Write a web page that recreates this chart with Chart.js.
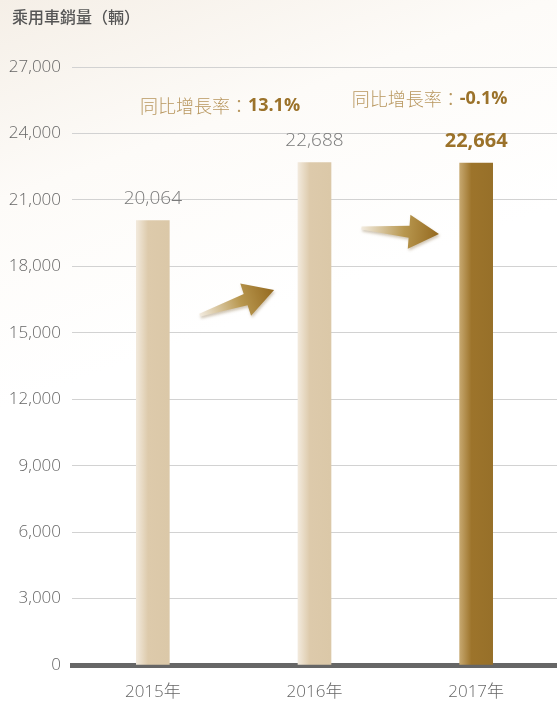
<!DOCTYPE html>
<html lang="zh-Hant">
<head>
<meta charset="UTF-8">
<title>乘用車銷量</title>
<style>
    html, body {
        margin: 0;
        padding: 0;
    }
    body {
        width: 557px;
        height: 708px;
        background: linear-gradient(160deg, #f5efe7 0%, #fdfbf8 22%, #ffffff 45%, #ffffff 100%);
        font-family: "Open Sans", "Noto Sans CJK TC", sans-serif;
    }
    #wrap {
        position: relative;
        width: 557px;
        height: 708px;
    }
</style>
</head>
<body>
<div id="wrap"><canvas id="sales"></canvas></div>

<script src="https://cdn.jsdelivr.net/npm/chart.js"></script>
<script>
    const years = ['2015年', '2016年', '2017年'];
    const sales = [20064, 22688, 22664];
    const growthLabels = ['同比增長率：', '同比增長率：'];
    const growthValues = ['13.1%', '-0.1%'];
    const yTicks = [0, 3000, 6000, 9000, 12000, 15000, 18000, 21000, 24000, 27000];

    const FONT = '"Open Sans", "Noto Sans CJK TC", sans-serif';
    const GOLD = '#9b722a';

    // bar fill: light-to-dark horizontal gradient per bar
    function barFill(ctx) {
        const chart = ctx.chart;
        if (!chart.chartArea || ctx.dataIndex === undefined) return '#dccaa9';
        const x = chart.scales.x.getPixelForValue(ctx.dataIndex);
        const g = chart.ctx.createLinearGradient(x - 16, 0, x + 16, 0);
        if (ctx.dataIndex === sales.length - 1) {
            g.addColorStop(0, '#c4a56c');
            g.addColorStop(0.35, '#9d742b');
            g.addColorStop(1, '#977029');
        } else {
            g.addColorStop(0, '#f1e8da');
            g.addColorStop(0.35, '#ddcaab');
            g.addColorStop(1, '#dbc8a8');
        }
        return g;
    }

    // arrows between bars: [tail category pos, tail value, tip category pos, tip value]
    const arrows = [
        [0.29, 15800, 0.75, 16930],
        [1.29, 19730, 1.77, 19460]
    ];

    function catPx(scale, f) {
        const i = Math.floor(f);
        const a = scale.getPixelForValue(i);
        const b = scale.getPixelForValue(i + 1);
        return a + (f - i) * (b - a);
    }

    const decorPlugin = {
        id: 'decor',
        beforeDraw(chart) {
            const c = chart.ctx;
            c.save();
            c.fillStyle = '#555';
            c.textBaseline = 'middle';
            c.textAlign = 'left';
            c.font = '500 16px "Noto Sans CJK TC", sans-serif';
            c.fillText('乘用車銷量（輛）', 12, 17);
            c.restore();
        },
        afterDatasetsDraw(chart) {
            const c = chart.ctx;
            const xs = chart.scales.x;
            const ys = chart.scales.y;
            const meta = chart.getDatasetMeta(0);

            // value labels above bars
            c.save();
            c.textAlign = 'center';
            c.textBaseline = 'middle';
            meta.data.forEach((bar, i) => {
                const last = i === sales.length - 1;
                c.font = (last ? 'bold 20px ' : '300 19px ') + FONT;
                c.fillStyle = last ? GOLD : '#7a7a7a';
                c.fillText(sales[i].toLocaleString('en-US'), bar.x, bar.y - 22);
            });
            c.restore();

            // growth annotations
            const growthPos = [[-0.08, 25250], [1.23, 25550]];
            c.save();
            c.textBaseline = 'middle';
            c.textAlign = 'left';
            growthLabels.forEach((lab, i) => {
                let x = catPx(xs, growthPos[i][0] < 0 ? 0 : growthPos[i][0]);
                if (growthPos[i][0] < 0) x += growthPos[i][0] * (xs.getPixelForValue(1) - xs.getPixelForValue(0));
                const y = ys.getPixelForValue(growthPos[i][1]);
                c.font = '300 18px "Noto Sans CJK TC", sans-serif';
                c.fillStyle = '#b8975f';
                c.fillText(lab, x, y);
                const w = c.measureText(lab).width;
                c.font = 'bold 18px ' + FONT;
                c.fillStyle = GOLD;
                c.fillText(growthValues[i], x + w, y);
            });
            c.restore();

            // arrows
            arrows.forEach(a => {
                const x0 = catPx(xs, a[0]), y0 = ys.getPixelForValue(a[1]);
                const x1 = catPx(xs, a[2]), y1 = ys.getPixelForValue(a[3]);
                const dx = x1 - x0, dy = y1 - y0;
                const len = Math.hypot(dx, dy);
                const ux = dx / len, uy = dy / len;
                const nx = -uy, ny = ux;
                const headLen = 30, headHalf = 17;
                const bx = x1 - ux * headLen, by = y1 - uy * headLen;
                const pts = [
                    [x0 + nx * 1.5, y0 + ny * 1.5],
                    [bx + nx * 6, by + ny * 6],
                    [bx + nx * headHalf, by + ny * headHalf],
                    [x1, y1],
                    [bx - nx * headHalf, by - ny * headHalf],
                    [bx - nx * 6, by - ny * 6],
                    [x0 - nx * 1.5, y0 - ny * 1.5]
                ];
                const g = c.createLinearGradient(x0, y0, x1, y1);
                g.addColorStop(0, '#f2ebdf');
                g.addColorStop(0.55, '#b8974f');
                g.addColorStop(1, '#94691f');
                c.save();
                c.shadowColor = 'rgba(120, 90, 40, 0.35)';
                c.shadowBlur = 3;
                c.shadowOffsetX = 1;
                c.shadowOffsetY = 2;
                c.beginPath();
                pts.forEach((p, k) => k ? c.lineTo(p[0], p[1]) : c.moveTo(p[0], p[1]));
                c.closePath();
                c.fillStyle = g;
                c.fill();
                c.restore();
            });
        }
    };

    new Chart(document.getElementById('sales'), {
        type: 'bar',
        data: {
            labels: years,
            datasets: [{
                data: sales,
                backgroundColor: barFill,
                borderWidth: 0,
                barThickness: 33
            }]
        },
        options: {
            responsive: true,
            maintainAspectRatio: false,
            animation: false,
            layout: {
                padding: { top: 67, right: 0, bottom: 0, left: 0 }
            },
            plugins: {
                legend: { display: false },
                tooltip: { enabled: false }
            },
            scales: {
                x: {
                    afterFit: s => { s.height = 43; },
                    grid: { display: false },
                    border: { color: '#666666', width: 5 },
                    ticks: {
                        color: '#666',
                        padding: 9,
                        font: { family: FONT, size: 17, weight: '300' }
                    }
                },
                y: {
                    min: 0,
                    max: 27000,
                    afterFit: s => { s.width = 72; },
                    afterBuildTicks: s => { s.ticks = yTicks.map(v => ({ value: v })); },
                    grid: { color: '#d2d2d2', lineWidth: 1, drawTicks: false },
                    border: { display: false },
                    ticks: {
                        color: '#666',
                        padding: 11,
                        font: { family: FONT, size: 17, weight: '300' },
                        callback: v => v.toLocaleString('en-US')
                    }
                }
            }
        },
        plugins: [decorPlugin]
    });
</script>
</body>
</html>
